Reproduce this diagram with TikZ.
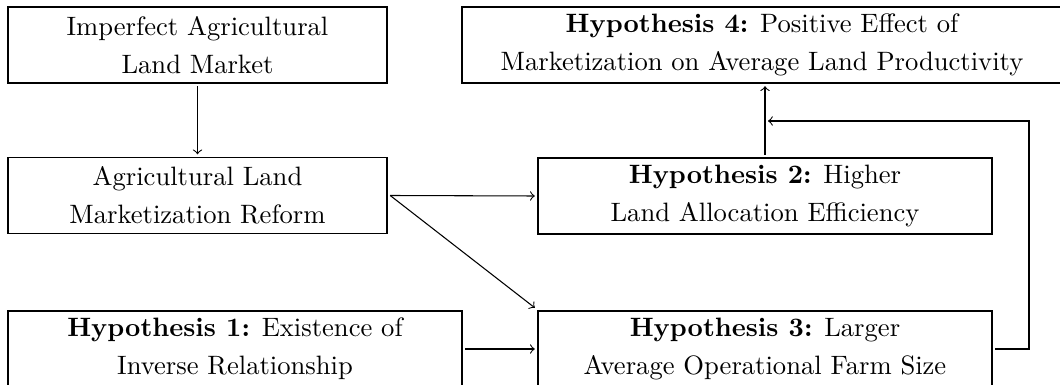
\documentclass[tikz,border=0pt]{standalone}
\begin{document}
\begin{tikzpicture}[x=0.376pt,y=-0.376pt,
  box/.style={draw,align=center,font=\fontsize{10}{14.3}\selectfont,inner sep=0pt,outer sep=1.2pt,minimum height=76*0.376pt},
  arr/.style={->}]
\useasboundingbox (0,0) rectangle (1060,385);
\node[box,minimum width=379*0.376pt] (a) at (197.5,45) {Imperfect Agricultural\\Land Market};
\node[box,minimum width=379*0.376pt] (b) at (197.5,195.5) {Agricultural Land\\Marketization Reform};
\node[box,minimum width=454*0.376pt] (c) at (235,349) {\textbf{Hypothesis 1:} Existence of\\Inverse Relationship};
\node[box,minimum width=600*0.376pt] (d) at (762,45) {\textbf{Hypothesis 4:} Positive Effect of\\Marketization on Average Land Productivity};
\node[box,minimum width=454*0.376pt] (e) at (765,196) {\textbf{Hypothesis 2:} Higher\\Land Allocation Efficiency};
\node[box,minimum width=454*0.376pt] (f) at (765,349) {\textbf{Hypothesis 3:} Larger\\Average Operational Farm Size};
\coordinate (fb) at (768,121);
\coordinate (turn) at (1029,121);
\draw[arr] (a.south) -- (b.north);
\draw[arr] (b.east) -- (e.west);
\draw[arr] (b.east) -- (f.north west);
\draw[arr] (c.east) -- (f.west);
\draw[arr] (e.north) -- (e.north |- d.south);
\draw[arr] (f.east) -| (turn) -- (fb);
\end{tikzpicture}
\end{document}
